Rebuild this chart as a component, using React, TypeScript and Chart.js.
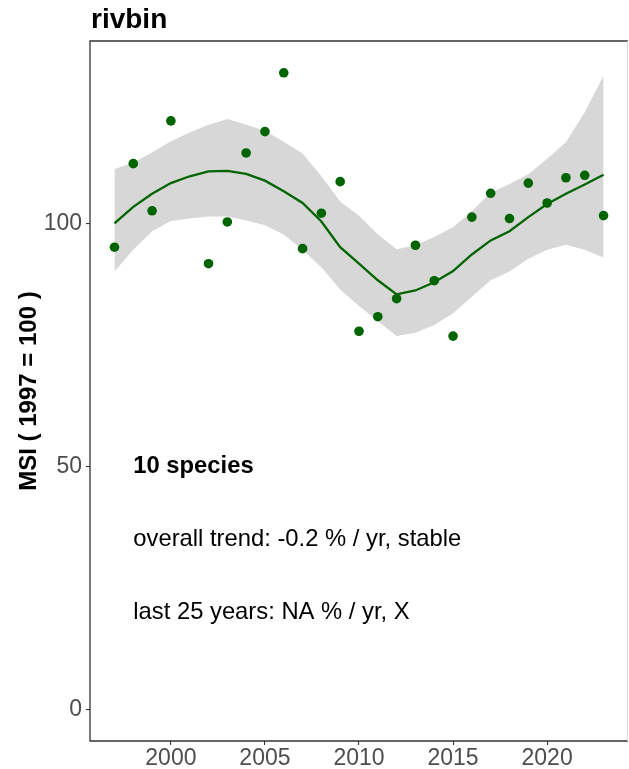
import { useEffect, useRef } from "react";
import { Chart, registerables } from "chart.js";

Chart.register(...registerables);

const years = [1997, 1998, 1999, 2000, 2001, 2002, 2003, 2004, 2005, 2006, 2007, 2008, 2009, 2010, 2011, 2012, 2013, 2014, 2015, 2016, 2017, 2018, 2019, 2020, 2021, 2022, 2023];
const trendValues = [100.0, 103.4, 106.1, 108.3, 109.7, 110.7, 110.8, 110.2, 108.8, 106.6, 104.2, 100.4, 95.1, 91.7, 88.3, 85.4, 86.2, 87.9, 90.2, 93.6, 96.5, 98.4, 101.3, 104.0, 106.1, 108.0, 110.0];
const upperValues = [111.2, 112.5, 114.6, 116.9, 118.7, 120.3, 121.5, 120.3, 119.1, 116.8, 114.4, 109.7, 104.5, 101.6, 97.7, 94.7, 95.5, 97.2, 99.2, 102.5, 106.3, 108.1, 110.1, 113.3, 116.7, 122.9, 130.4];
const lowerValues = [90.1, 94.6, 98.4, 100.5, 101.0, 101.4, 101.4, 100.6, 99.6, 97.7, 94.6, 91.0, 86.4, 83.0, 79.9, 76.8, 77.5, 79.1, 81.5, 84.9, 88.3, 90.1, 92.7, 94.6, 95.6, 94.6, 93.0];

const msiYears = [1997, 1998, 1999, 2000, 2002, 2003, 2004, 2005, 2006, 2007, 2008, 2009, 2010, 2011, 2012, 2013, 2014, 2015, 2016, 2017, 2018, 2019, 2020, 2021, 2022, 2023];
const msiValues = [95.1, 112.3, 102.6, 121.1, 91.7, 100.3, 114.5, 118.9, 131.0, 94.8, 102.1, 108.6, 77.8, 80.8, 84.5, 95.5, 88.2, 76.8, 101.3, 106.2, 101.0, 108.3, 104.2, 109.4, 109.9, 101.6];

const yTicks = [0, 50, 100];
const xTicks = [2000, 2005, 2010, 2015, 2020];

const titleText = "rivbin";
const yAxisTitle = "MSI ( 1997 = 100 )";
const annotationLines = ["10 species", "overall trend: -0.2 % / yr, stable", "last 25 years: NA % / yr, X"];
const annotationY = [50, 35, 20];
const annotationBold = [true, false, false];
const annotationX = 1998;

const FONT = "'Liberation Sans', Arial, sans-serif";
const GREEN = "#006400";

export default function App() {
  const ref = useRef<HTMLCanvasElement | null>(null);

  useEffect(() => {
    document.body.style.margin = "0";
    const canvas = ref.current;
    if (!canvas) return;

    const xMinData = Math.min(...years);
    const xMaxData = Math.max(...years);
    const xPad = (xMaxData - xMinData) * 0.05;
    const yMaxData = Math.max(...msiValues, ...upperValues);
    const yMinData = 0;
    const yPad = (yMaxData - yMinData) * 0.05;

    const toXY = (xs: number[], ys: number[]) => xs.map((x, i) => ({ x, y: ys[i] }));

    const decor = {
      id: "decor",
      afterDraw(chart: any) {
        const { ctx, chartArea } = chart;
        const xs = chart.scales.x;
        const ys = chart.scales.y;
        ctx.save();
        // frame
        ctx.strokeStyle = "#333333";
        ctx.lineWidth = 1.3;
        ctx.beginPath();
        ctx.moveTo(chartArea.right, chartArea.top);
        ctx.lineTo(chartArea.left, chartArea.top);
        ctx.lineTo(chartArea.left, chartArea.bottom);
        ctx.lineTo(chartArea.right, chartArea.bottom);
        ctx.stroke();
        ctx.strokeStyle = "#d8d8d8";
        ctx.lineWidth = 1;
        ctx.beginPath();
        ctx.moveTo(chartArea.right - 0.5, chartArea.top);
        ctx.lineTo(chartArea.right - 0.5, chartArea.bottom);
        ctx.stroke();
        // title
        ctx.fillStyle = "#000000";
        ctx.font = `bold 28px ${FONT}`;
        ctx.textAlign = "left";
        ctx.textBaseline = "alphabetic";
        ctx.fillText(titleText, chartArea.left + 1, 28);
        // annotations
        annotationLines.forEach((t, i) => {
          ctx.font = `${annotationBold[i] ? "bold " : ""}23.8px ${FONT}`;
          ctx.textBaseline = "middle";
          ctx.fillText(t, xs.getPixelForValue(annotationX), ys.getPixelForValue(annotationY[i]));
        });
        ctx.restore();
      },
    };

    const chart = new Chart(canvas, {
      type: "line",
      data: {
        datasets: [
          {
            label: "MSI",
            data: toXY(msiYears, msiValues),
            showLine: false,
            pointRadius: 4.8,
            pointBackgroundColor: GREEN,
            pointBorderColor: GREEN,
            pointBorderWidth: 0,
          },
          {
            label: "trend",
            data: toXY(years, trendValues),
            borderColor: GREEN,
            borderWidth: 2.3,
            pointRadius: 0,
            fill: false,
          },
          {
            label: "upper",
            data: toXY(years, upperValues),
            borderWidth: 0,
            borderColor: "rgba(0,0,0,0)",
            backgroundColor: "#d7d7d7",
            pointRadius: 0,
            fill: "+1",
          },
          {
            label: "lower",
            data: toXY(years, lowerValues),
            borderWidth: 0,
            borderColor: "rgba(0,0,0,0)",
            pointRadius: 0,
            fill: false,
          },
        ],
      },
      options: {
        animation: false,
        responsive: false,
        maintainAspectRatio: false,
        layout: { autoPadding: false, padding: { top: 41, right: 1, left: 0, bottom: 0 } },
        plugins: { legend: { display: false }, tooltip: { enabled: false }, title: { display: false } },
        scales: {
          x: {
            type: "linear",
            min: xMinData - xPad,
            max: xMaxData + xPad,
            afterBuildTicks: (s: any) => {
              s.ticks = xTicks.map((v) => ({ value: v }));
            },
            afterFit: (s: any) => {
              s.height = 28;
              s.paddingLeft = 0;
              s.paddingRight = 0;
            },
            border: { display: false },
            grid: { drawOnChartArea: false, drawTicks: true, tickLength: 4, color: "#333333", lineWidth: 1.1 },
            ticks: {
              color: "#4d4d4d",
              font: { family: FONT, size: 23 },
              padding: 0,
              maxRotation: 0,
              autoSkip: false,
              callback: (v: any) => String(v),
            },
          },
          y: {
            type: "linear",
            min: yMinData - yPad,
            max: yMaxData + yPad,
            afterBuildTicks: (s: any) => {
              s.ticks = yTicks.map((v) => ({ value: v }));
            },
            afterFit: (s: any) => {
              s.width = 90;
              s.paddingTop = 0;
              s.paddingBottom = 0;
            },
            border: { display: false },
            grid: { drawOnChartArea: false, drawTicks: true, tickLength: 4, color: "#333333", lineWidth: 1.1 },
            ticks: {
              color: "#4d4d4d",
              font: { family: FONT, size: 23 },
              padding: 4,
              autoSkip: false,
              callback: (v: any) => String(v),
            },
            title: {
              display: true,
              text: yAxisTitle,
              color: "#000000",
              font: { family: FONT, size: 24, weight: "bold" },
              padding: { top: 15, bottom: 0 },
            },
          },
        },
      },
      plugins: [decor],
    });

    return () => chart.destroy();
  }, []);

  return <canvas ref={ref} width={629} height={769} style={{ display: "block" }} />;
}
